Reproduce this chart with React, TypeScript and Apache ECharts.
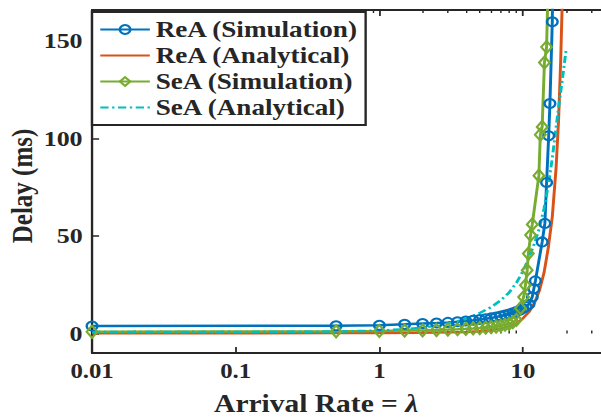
import React, { useEffect, useRef } from 'react';
import * as echarts from 'echarts';

// ---- Data ----
const reaSimX = [0.01, 0.5, 1, 1.5, 2, 2.5, 3, 3.5, 4, 4.5, 5, 5.5, 6, 6.5, 7, 7.5, 8, 8.5, 9, 9.5, 10, 10.5, 11, 11.6, 11.9, 12.2, 13.6, 14.2, 14.6, 15.1, 15.4, 16.0, 16.4];
const reaSimY = [3.8, 4.0, 4.2, 4.7, 5.1, 5.4, 5.7, 6.0, 6.4, 6.8, 7.2, 7.6, 8.0, 8.5, 9.0, 9.5, 10.0, 10.6, 11.3, 12.0, 12.8, 13.8, 15.0, 18.7, 23, 27, 47, 56.5, 77.5, 101.5, 118, 160, 250];

const reaAnaX = [0.01, 0.1, 0.5, 1, 2, 3, 4, 5, 6, 7, 8, 9, 10, 11, 12, 13, 14, 15, 16, 17, 17.7, 18.3, 18.7, 19.2];
const reaAnaY = [0.1, 0.1, 0.2, 0.3, 0.4, 0.6, 0.8, 1.2, 1.8, 2.6, 3.6, 5.2, 7.8, 11, 15.5, 22, 31, 44, 60, 85, 110, 140, 166, 200];

const seaSimX = [0.01, 0.5, 1, 1.5, 2, 2.5, 3, 3.5, 4, 4.5, 5, 5.5, 6, 6.5, 7, 7.5, 8, 8.5, 9, 9.6, 10.1, 10.4, 10.7, 10.9, 11.3, 11.6, 12.9, 13.2, 13.6, 14.1, 14.6, 15.2];
const seaSimY = [0.9, 1.1, 1.3, 1.5, 1.6, 1.8, 2.0, 2.2, 2.4, 2.6, 2.8, 3.0, 3.3, 3.6, 4.0, 4.5, 5.0, 5.8, 7.0, 13, 18.7, 24.7, 32.5, 41, 50.5, 56, 81, 102, 106, 139, 147, 200];

const seaAnaX = [0.01, 0.1, 0.5, 1, 1.5, 2, 2.5, 3, 4, 5, 6, 7, 8, 9, 10, 11, 12, 13, 14, 15, 16, 17, 18, 19, 20];
const seaAnaY = [0.8, 0.8, 1.0, 1.5, 2.2, 3.0, 4.0, 5.0, 7.5, 10.5, 13.5, 17, 21, 26, 32, 39, 46, 54, 64, 76, 90, 106, 120, 133, 146];

const seriesNames = ['ReA (Simulation)', 'ReA (Analytical)', 'SeA (Simulation)', 'SeA (Analytical)'];
const yTickValues = [0, 50, 100, 150];
const minorTickValues = [0.02, 0.03, 0.04, 0.05, 0.06, 0.07, 0.08, 0.09, 0.2, 0.3, 0.4, 0.5, 0.6, 0.7, 0.8, 0.9, 2, 3, 4, 5, 6, 7, 8, 9, 20, 30];

const X_MIN = 0.01;
const X_MAX = 40;
const Y_MIN = -10;
const Y_MAX = 166;

const STRETCH = 1.18;
const W = 520;
const H = 419;

const BLUE = '#0072BD';
const ORANGE = '#D95319';
const GREEN = '#77AC30';
const CYAN = '#00BFBF';
const INK = '#262626';
const FONT = 'Liberation Serif';

const zip = (xs: number[], ys: number[]) => xs.map((x, i) => [x, ys[i]]);

export default function App() {
  const ref = useRef<HTMLDivElement>(null);

  useEffect(() => {
    if (!ref.current) return;
    const chart = echarts.init(ref.current, null, { renderer: 'svg' });
    const logMin = Math.log10(X_MIN);
    const logMax = Math.log10(X_MAX);
    const minorLog = minorTickValues.map((v) => Math.log10(v));

    const logAxisBase: any = {
      type: 'log',
      logBase: 10,
      min: X_MIN,
      max: X_MAX,
      gridIndex: 0,
      splitLine: { show: false },
      minorTick: { show: false },
    };
    const minorAxisBase: any = {
      type: 'value',
      min: logMin,
      max: logMax,
      gridIndex: 0,
      axisLine: { show: false },
      axisLabel: { show: false },
      splitLine: { show: false },
      axisTick: {
        show: true,
        inside: true,
        length: 3,
        customValues: minorLog,
        lineStyle: { color: INK, width: 1.2 },
      },
    };

    chart.setOption({
      animation: false,
      backgroundColor: '#fff',
      grid: { left: 78, right: W - 516.5, top: 10, bottom: H - 353, containLabel: false },
      xAxis: [
        {
          ...logAxisBase,
          position: 'bottom',
          axisLine: { show: true, onZero: false, lineStyle: { color: INK, width: 2 } },
          axisTick: { show: true, inside: true, length: 6, lineStyle: { color: INK, width: 1.5 } },
          axisLabel: {
            show: true,
            margin: 8,
            color: INK,
            fontFamily: FONT,
            fontWeight: 'bold',
            fontSize: 21,
            formatter: (v: number) => {
              const l = Math.log10(v);
              if (Math.abs(l - Math.round(l)) > 1e-6) return '';
              return String(Number(Number(v).toPrecision(2)));
            },
          },
        },
        {
          ...logAxisBase,
          position: 'top',
          axisLine: { show: true, onZero: false, lineStyle: { color: INK, width: 2 } },
          axisTick: { show: true, inside: true, length: 6, lineStyle: { color: INK, width: 1.5 } },
          axisLabel: { show: false },
        },
        { ...minorAxisBase, position: 'bottom' },
        { ...minorAxisBase, position: 'top' },
      ],
      yAxis: {
        type: 'value',
        min: Y_MIN,
        max: Y_MAX,
        splitLine: { show: false },
        axisLine: { show: true, onZero: false, lineStyle: { color: INK, width: 2 } },
        axisTick: { show: true, inside: true, length: 6, customValues: yTickValues, lineStyle: { color: INK, width: 1.5 } },
        axisLabel: {
          show: true,
          customValues: yTickValues,
          margin: 8,
          color: INK,
          fontFamily: FONT,
          fontWeight: 'bold',
          fontSize: 22,
        },
      },
      legend: {
        show: true,
        orient: 'vertical',
        left: 78,
        top: 12,
        backgroundColor: '#fff',
        borderColor: INK,
        borderWidth: 2,
        borderRadius: 0,
        padding: [6, 6, 6, 6],
        itemGap: 3,
        itemWidth: 42,
        itemHeight: 11,
        textStyle: { color: INK, fontFamily: FONT, fontWeight: 'bold', fontSize: 23 },
        data: [
          { name: seriesNames[0] },
          { name: seriesNames[1], itemStyle: { opacity: 0 } },
          { name: seriesNames[2] },
          { name: seriesNames[3], itemStyle: { opacity: 0 } },
        ],
      },
      graphic: [
        {
          type: 'text',
          x: 268,
          y: 404,
          style: {
            text: 'Arrival Rate = {i|λ}',
            font: 'bold 25px Liberation Serif',
            fill: INK,
            textAlign: 'center',
            textVerticalAlign: 'middle',
            rich: { i: { fontStyle: 'italic', fontWeight: 'bold', fontSize: 25, fontFamily: FONT, fill: INK } },
          },
        },
        {
          type: 'text',
          x: 19,
          y: 186,
          rotation: Math.PI / 2,
          style: {
            text: 'Delay (ms)',
            font: 'bold 25px Liberation Serif',
            fill: INK,
            textAlign: 'center',
            textVerticalAlign: 'middle',
          },
        },
      ],
      series: [
        {
          name: seriesNames[0],
          type: 'line',
          xAxisIndex: 0,
          data: zip(reaSimX, reaSimY),
          symbol: 'circle',
          symbolSize: 9,
          showAllSymbol: true,
          lineStyle: { color: BLUE, width: 2.5 },
          itemStyle: { color: 'none', borderColor: BLUE, borderWidth: 2 },
        },
        {
          name: seriesNames[1],
          type: 'line',
          xAxisIndex: 0,
          data: zip(reaAnaX, reaAnaY),
          symbol: 'none',
          lineStyle: { color: ORANGE, width: 2.5 },
          itemStyle: { color: ORANGE },
        },
        {
          name: seriesNames[2],
          type: 'line',
          xAxisIndex: 0,
          data: zip(seaSimX, seaSimY),
          symbol: 'diamond',
          symbolSize: [9, 12],
          showAllSymbol: true,
          lineStyle: { color: GREEN, width: 2.5 },
          itemStyle: { color: 'none', borderColor: GREEN, borderWidth: 2 },
        },
        {
          name: seriesNames[3],
          type: 'line',
          xAxisIndex: 0,
          data: zip(seaAnaX, seaAnaY),
          symbol: 'none',
          lineStyle: { color: CYAN, width: 2.5, type: [7, 3, 2, 3] },
          itemStyle: { color: CYAN },
        },
      ],
    });
    return () => chart.dispose();
  }, []);

  return (
    <div style={{ position: 'absolute', left: 0, top: 0, width: 601, height: 419, overflow: 'hidden', background: '#fff' }}>
      <div
        ref={ref}
        style={{ width: W, height: H, transform: `scaleX(${STRETCH})`, transformOrigin: '0 0' }}
      />
    </div>
  );
}
